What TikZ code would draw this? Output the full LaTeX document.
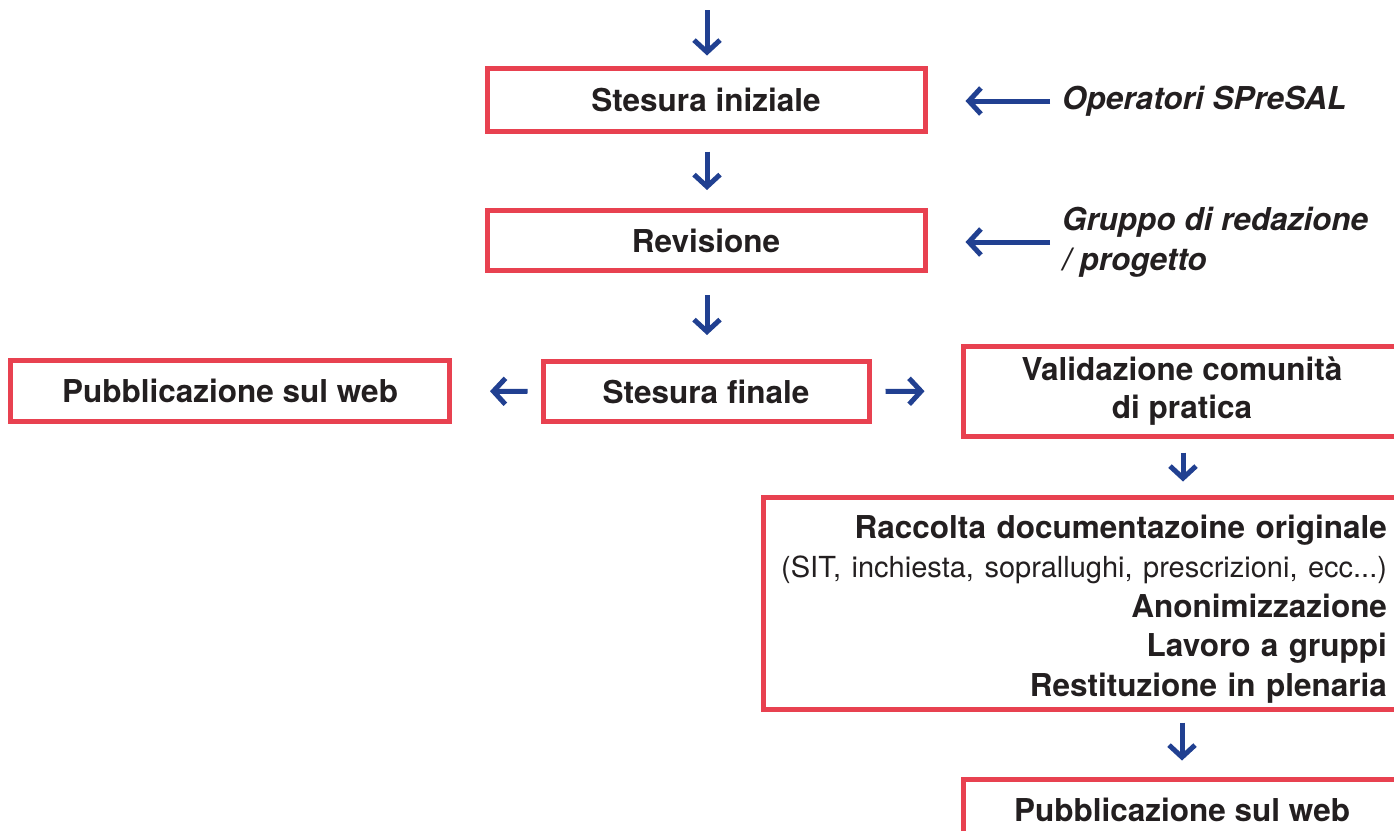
\documentclass[tikz,border=0pt]{standalone}
\usepackage{fontspec}
\setmainfont{TeX Gyre Heros}
\usetikzlibrary{arrows.meta}
\definecolor{boxred}{RGB}{232,65,80}
\definecolor{arrblue}{RGB}{33,64,145}
\definecolor{txt}{RGB}{35,31,32}
\tikzset{
  box/.style={draw=boxred, line width=5pt, rectangle, inner sep=0pt, text=txt,
    font=\fontsize{31.5}{38}\selectfont\bfseries, align=center},
  label/.style={inner sep=0pt, text=txt, font=\fontsize{31.5}{40}\selectfont\bfseries\itshape, align=left},
  arr/.style={draw=arrblue, line width=5pt, -{Straight Barb[length=12pt,width=26pt]}}
}
\begin{document}
\begin{tikzpicture}[x=1pt,y=-1pt]
\useasboundingbox (0,0) rectangle (1394,830);
\clip (0,0) rectangle (1394,830);
% boxes
\node[box, minimum width=438pt, minimum height=63pt] (A) at (706,99.5) {Stesura iniziale};
\node[box, minimum width=438pt, minimum height=60pt] (B) at (706,240.5) {Revisione};
\node[box, minimum width=326pt, minimum height=60pt] (C) at (706,391.5) {Stesura finale};
\node[box, minimum width=439pt, minimum height=61pt] (L) at (230,391) {Pubblicazione sul web};
\node[box, minimum width=438pt, minimum height=90pt] (V) at (1182,391) {Validazione comunità\\di pratica};
\node[box, minimum width=638pt, minimum height=212pt, text width=610pt, align=right, text height=35pt,
      font=\fontsize{31.5}{39.5}\selectfont\bfseries] (R) at (1082,603)
  {Raccolta documentazoine originale\\
   \mbox{\fontsize{29}{39.5}\selectfont\mdseries (SIT, inchiesta, soprallughi, prescrizioni, ecc...)}\\
   Anonimizzazione\\
   Lavoro a gruppi\\
   Restituzione in plenaria};
\node[box, minimum width=438pt, minimum height=62pt] (P) at (1182,810) {Pubblicazione sul web};
% side labels
\node[label, anchor=west] (O) at (1062,101) {Operatori SPreSAL};
\node[label, anchor=west] (G) at (1062,242) {Gruppo di redazione\\/ progetto};
\coordinate (top) at (707,10);
% arrows
\draw[arr, shorten >=10pt] (top) -- (A.north -| top);
\draw[arr, shorten <=18pt, shorten >=18pt] (A.south -| top) -- (B.north -| top);
\draw[arr, shorten <=22pt, shorten >=24pt] (B.south -| top) -- (C.north -| top);
\draw[arr, shorten <=13pt, shorten >=38pt] (C.west) -- (L.east);
\draw[arr, shorten <=14pt, shorten >=36pt] (C.east) -- (V.west);
\draw[arr, shorten <=12pt, shorten >=38pt] (O.west) -- (O.west -| A.east);
\draw[arr, shorten <=12pt, shorten >=38pt] (G.west) -- (G.west -| B.east);
\draw[arr, shorten <=14pt, shorten >=13pt] ([xshift=1pt]V.south) -- ([xshift=1pt]V.south |- R.north);
\draw[arr, shorten <=11pt, shorten >=16pt] (R.south -| V.south) -- (P.north);
\end{tikzpicture}
\end{document}
